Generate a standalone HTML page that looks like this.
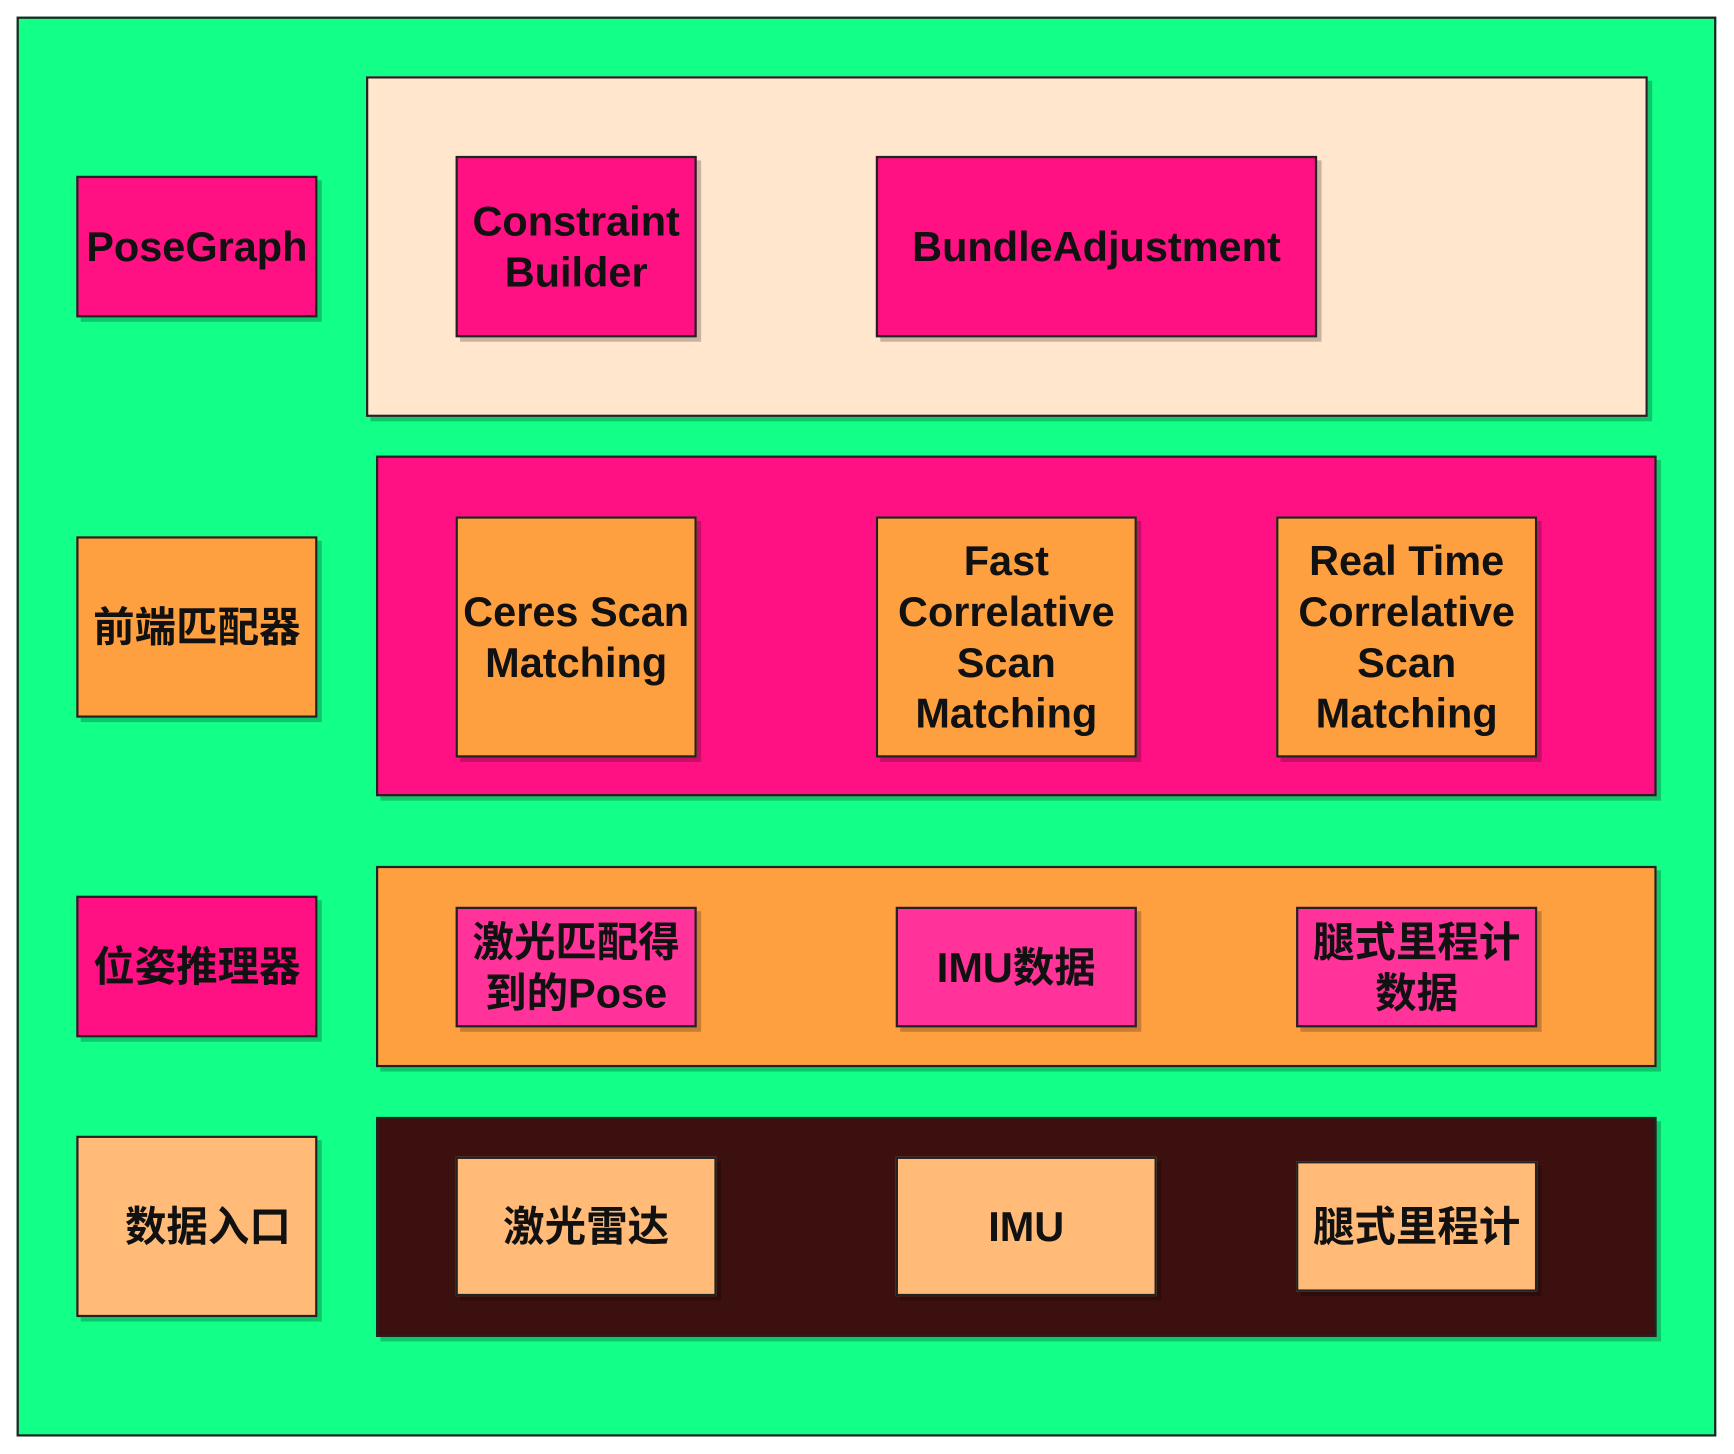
<!DOCTYPE html>
<html><head><meta charset="utf-8"><style>
html,body{margin:0;padding:0;background:#fff;width:1734px;height:1454px;overflow:hidden}
#w{position:absolute;left:0;top:0;width:1568px;height:1315px;transform:scale(1.10587);transform-origin:0 0}
.b{position:absolute;box-sizing:border-box;border:2px solid #222;display:flex;align-items:center;justify-content:center;text-align:center;font-family:"Liberation Sans","Noto Sans CJK SC",sans-serif;font-weight:bold;font-size:37.5px;line-height:46px;color:#111;box-shadow:4px 4px 0 rgba(0,0,0,0.22)}
.pk{background:#FF1184}.lp{background:#FF3399}.or{background:#FFA040}.lo{background:#FFBB77}
</style></head><body><div id="w">
<div class="b" style="left:15px;top:15px;width:1537px;height:1284px;background:#12FF88;box-shadow:none"></div>
<div class="b" style="left:331px;top:69px;width:1159px;height:308px;background:#FFE6CC"></div>
<div class="b pk" style="left:340px;top:412px;width:1158px;height:308px"></div>
<div class="b or" style="left:340px;top:783px;width:1158px;height:182px"></div>
<div class="b" style="left:340px;top:1010px;width:1158px;height:199px;background:#3D1010"></div>

<div class="b pk" style="left:69px;top:159px;width:218px;height:128px">PoseGraph</div>
<div class="b or" style="left:69px;top:485px;width:218px;height:164px">前端匹配器</div>
<div class="b pk" style="left:69px;top:810px;width:218px;height:128px">位姿推理器</div>
<div class="b lo" style="left:69px;top:1027px;width:218px;height:164px;padding-left:20px">数据入口</div>

<div class="b pk" style="left:412px;top:141px;width:218px;height:164px">Constraint<br>Builder</div>
<div class="b pk" style="left:792px;top:141px;width:399px;height:164px">BundleAdjustment</div>

<div class="b or" style="left:412px;top:467px;width:218px;height:218px">Ceres Scan<br>Matching</div>
<div class="b or" style="left:792px;top:467px;width:236px;height:218px">Fast<br>Correlative<br>Scan<br>Matching</div>
<div class="b or" style="left:1154px;top:467px;width:236px;height:218px">Real Time<br>Correlative<br>Scan<br>Matching</div>

<div class="b lp" style="left:412px;top:820px;width:218px;height:109px">激光匹配得<br>到的Pose</div>
<div class="b lp" style="left:810px;top:820px;width:218px;height:109px">IMU数据</div>
<div class="b lp" style="left:1172px;top:820px;width:218px;height:109px">腿式里程计<br>数据</div>

<div class="b lo" style="left:412px;top:1046px;width:236px;height:126px">激光雷达</div>
<div class="b lo" style="left:810px;top:1046px;width:236px;height:126px">IMU</div>
<div class="b lo" style="left:1172px;top:1050px;width:218px;height:118px">腿式里程计</div>
</div></body></html>
